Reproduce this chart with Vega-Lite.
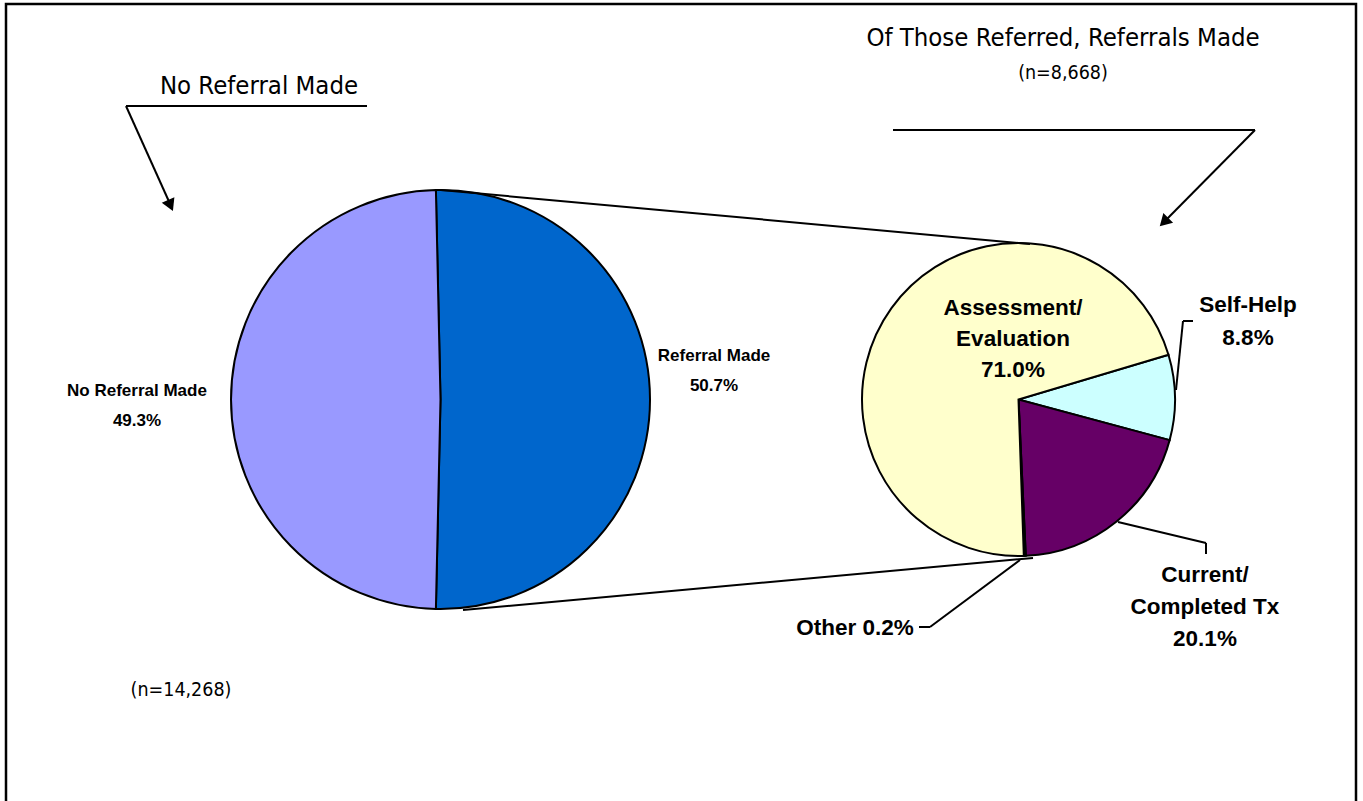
{
  "$schema": "https://vega.github.io/schema/vega-lite/v6.json",
  "width": 1363,
  "height": 801,
  "autosize": {"type": "none"},
  "padding": 0,
  "background": "white",
  "config": {"view": {"stroke": null}},
  "datasets": {
    "pieLeft": [
      {"cat": "Referral Made", "pct": 50.7, "ord": 1, "cx": 440.5, "cy": 399.5},
      {"cat": "No Referral Made", "pct": 49.3, "ord": 2, "cx": 440.5, "cy": 399.5}
    ],
    "pieRight": [
      {"cat": "Self-Help", "pct": 8.8, "ord": 1, "cx": 1018.5, "cy": 399.5},
      {"cat": "Current/Completed Tx", "pct": 20.1, "ord": 2, "cx": 1018.5, "cy": 399.5},
      {"cat": "Other", "pct": 0.2, "ord": 3, "cx": 1018.5, "cy": 399.5},
      {"cat": "Assessment/Evaluation", "pct": 71.0, "ord": 4, "cx": 1018.5, "cy": 399.5}
    ],
    "segs": [
      {"x": 126, "y": 106, "x2": 367, "y2": 106},
      {"x": 126, "y": 106, "x2": 171, "y2": 206},
      {"x": 893, "y": 130, "x2": 1255, "y2": 130},
      {"x": 1255, "y": 130, "x2": 1164, "y2": 222},
      {"x": 441, "y": 190, "x2": 1030, "y2": 244},
      {"x": 463, "y": 610, "x2": 1033, "y2": 558},
      {"x": 1176, "y": 390, "x2": 1183, "y2": 321},
      {"x": 1183, "y": 321, "x2": 1193, "y2": 321},
      {"x": 1118, "y": 522, "x2": 1206, "y2": 543},
      {"x": 1206, "y": 543, "x2": 1206, "y2": 554},
      {"x": 1020, "y": 560, "x2": 930, "y2": 627},
      {"x": 930, "y": 627, "x2": 919, "y2": 627}
    ],
    "arrows": [
      {"which": "left", "x": 170.5, "y": 205.5},
      {"which": "right", "x": 1164, "y": 222}
    ],
    "frame": [{"x": 6, "y": 4, "x2": 1356, "y2": 830}],
    "labelsLeft": [
      {"t": "No Referral Made", "x": 137, "y": 391},
      {"t": "49.3%", "x": 137, "y": 421},
      {"t": "Referral Made", "x": 714, "y": 356},
      {"t": "50.7%", "x": 714, "y": 386}
    ],
    "labelsRight": [
      {"t": "Assessment/", "x": 1013, "y": 308},
      {"t": "Evaluation", "x": 1013, "y": 339},
      {"t": "71.0%", "x": 1013, "y": 370},
      {"t": "Self-Help", "x": 1248, "y": 305},
      {"t": "8.8%", "x": 1248, "y": 338},
      {"t": "Current/", "x": 1205, "y": 575},
      {"t": "Completed Tx", "x": 1205, "y": 607},
      {"t": "20.1%", "x": 1205, "y": 639},
      {"t": "Other 0.2%", "x": 855, "y": 628}
    ],
    "titles": [
      {"t": "No Referral Made", "x": 259, "y": 86},
      {"t": "Of Those Referred, Referrals Made", "x": 1063, "y": 38}
    ],
    "notes": [
      {"t": "(n=8,668)", "x": 1063, "y": 73},
      {"t": "(n=14,268)", "x": 181, "y": 690}
    ]
  },
  "resolve": {"scale": {"theta": "independent"}},
  "layer": [
    {
      "data": {"name": "pieLeft"},
      "mark": {"type": "arc", "outerRadius": 209.5, "stroke": "black", "strokeWidth": 2},
      "encoding": {
        "x": {"field": "cx", "type": "quantitative", "scale": {"domain": [0, 1363], "nice": false, "zero": false}, "axis": null},
        "y": {"field": "cy", "type": "quantitative", "scale": {"domain": [0, 801], "nice": false, "zero": false, "reverse": true}, "axis": null},
        "theta": {"field": "pct", "type": "quantitative", "stack": true, "scale": {"range": [-0.022, 6.2612]}},
        "order": {"field": "ord", "type": "quantitative"},
        "color": {
          "field": "cat", "type": "nominal", "legend": null,
          "scale": {
            "domain": ["No Referral Made", "Referral Made", "Assessment/Evaluation", "Self-Help", "Current/Completed Tx", "Other"],
            "range": ["#9999FF", "#0066CC", "#FFFFCC", "#CCFFFF", "#660066", "#FF8080"]
          }
        }
      }
    },
    {
      "data": {"name": "pieRight"},
      "mark": {"type": "arc", "outerRadius": 156.5, "stroke": "black", "strokeWidth": 2},
      "encoding": {
        "x": {"field": "cx", "type": "quantitative"},
        "y": {"field": "cy", "type": "quantitative"},
        "theta": {"field": "pct", "type": "quantitative", "stack": true, "scale": {"range": [1.281, 7.5642]}},
        "order": {"field": "ord", "type": "quantitative"},
        "color": {"field": "cat", "type": "nominal", "legend": null}
      }
    },
    {
      "data": {"name": "segs"},
      "mark": {"type": "rule", "color": "black", "strokeWidth": 2},
      "encoding": {
        "x": {"field": "x", "type": "quantitative"},
        "y": {"field": "y", "type": "quantitative"},
        "x2": {"field": "x2"},
        "y2": {"field": "y2"}
      }
    },
    {
      "data": {"name": "arrows"},
      "transform": [{"filter": "datum.which === 'left'"}],
      "mark": {"type": "point", "shape": "triangle-up", "filled": true, "color": "black", "opacity": 1, "size": 190, "angle": 156},
      "encoding": {
        "x": {"field": "x", "type": "quantitative"},
        "y": {"field": "y", "type": "quantitative"}
      }
    },
    {
      "data": {"name": "arrows"},
      "transform": [{"filter": "datum.which === 'right'"}],
      "mark": {"type": "point", "shape": "triangle-up", "filled": true, "color": "black", "opacity": 1, "size": 190, "angle": 225},
      "encoding": {
        "x": {"field": "x", "type": "quantitative"},
        "y": {"field": "y", "type": "quantitative"}
      }
    },
    {
      "data": {"name": "frame"},
      "mark": {"type": "rect", "fill": null, "fillOpacity": 0, "stroke": "black", "strokeWidth": 2.5},
      "encoding": {
        "x": {"field": "x", "type": "quantitative"},
        "y": {"field": "y", "type": "quantitative"},
        "x2": {"field": "x2"},
        "y2": {"field": "y2"}
      }
    },
    {
      "data": {"name": "labelsLeft"},
      "mark": {"type": "text", "font": "Liberation Sans", "fontWeight": "bold", "fontSize": 17, "align": "center", "baseline": "middle", "color": "black"},
      "encoding": {
        "x": {"field": "x", "type": "quantitative"},
        "y": {"field": "y", "type": "quantitative"},
        "text": {"field": "t"}
      }
    },
    {
      "data": {"name": "labelsRight"},
      "mark": {"type": "text", "font": "Liberation Sans", "fontWeight": "bold", "fontSize": 22.5, "align": "center", "baseline": "middle", "color": "black"},
      "encoding": {
        "x": {"field": "x", "type": "quantitative"},
        "y": {"field": "y", "type": "quantitative"},
        "text": {"field": "t"}
      }
    },
    {
      "data": {"name": "titles"},
      "mark": {"type": "text", "font": "Liberation Sans Narrow, DejaVu Sans Condensed, Roboto", "fontSize": 25.5, "align": "center", "baseline": "middle", "color": "black"},
      "encoding": {
        "x": {"field": "x", "type": "quantitative"},
        "y": {"field": "y", "type": "quantitative"},
        "text": {"field": "t"}
      }
    },
    {
      "data": {"name": "notes"},
      "mark": {"type": "text", "font": "Liberation Sans Narrow, DejaVu Sans Condensed, Roboto", "fontSize": 19.5, "align": "center", "baseline": "middle", "color": "black"},
      "encoding": {
        "x": {"field": "x", "type": "quantitative"},
        "y": {"field": "y", "type": "quantitative"},
        "text": {"field": "t"}
      }
    }
  ]
}
